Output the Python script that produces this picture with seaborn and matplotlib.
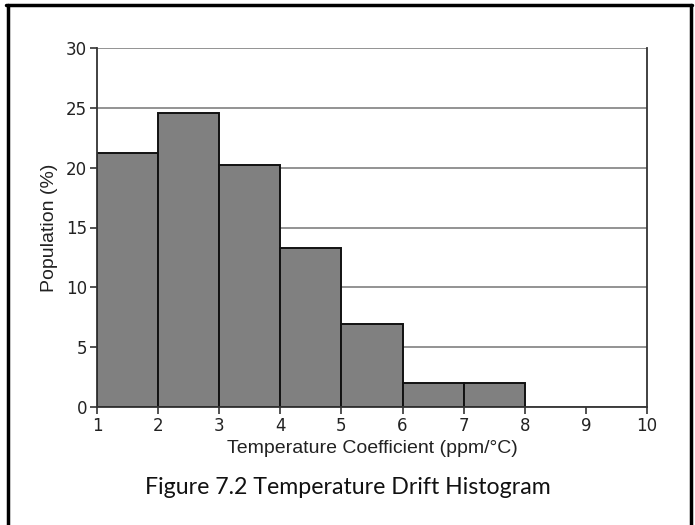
import matplotlib
matplotlib.use("Agg")
import matplotlib.pyplot as plt
import seaborn as sns
import pandas as pd

bin_edges = [1, 2, 3, 4, 5, 6, 7, 8]
population = [21.2, 24.6, 20.2, 13.3, 6.9, 2.0, 2.0]
x_ticks = [1, 2, 3, 4, 5, 6, 7, 8, 9, 10]
y_ticks = [0, 5, 10, 15, 20, 25, 30]
x_label = "Temperature Coefficient (ppm/°C)"
y_label = "Population (%)"
caption = "Figure 7.2 Temperature Drift Histogram"

sns.set_style("white")
plt.rcParams["font.family"] = ["DejaVu Sans"]

df = pd.DataFrame({
    "center": [(a + b) / 2 for a, b in zip(bin_edges[:-1], bin_edges[1:])],
    "pct": population,
})

fig = plt.figure(figsize=(6.95, 5.25), dpi=100)
ax = fig.add_axes([97 / 695, 1 - 407 / 525, 550 / 695, 359 / 525])

sns.histplot(data=df, x="center", weights="pct", bins=bin_edges, stat="count",
             color="#808080", edgecolor="#111111", linewidth=1.4, alpha=1.0, ax=ax)

ax.set_xlim(1, 10)
ax.set_ylim(0, 30)
ax.set_xticks(x_ticks)
ax.set_yticks(y_ticks)
ax.yaxis.grid(True, color="#8a8a8a", linewidth=1.3)
ax.set_axisbelow(True)
for side in ["left", "bottom", "right"]:
    ax.spines[side].set_visible(True)
    ax.spines[side].set_color("#333333")
    ax.spines[side].set_linewidth(1.3)
ax.spines["top"].set_visible(False)
ax.tick_params(axis="both", which="major", direction="out", length=5, width=1.2,
               color="#333333", labelsize=12, labelcolor="#222222", pad=2,
               bottom=True, left=True)
ax.set_xlabel(x_label, family=["Liberation Sans"], fontsize=14, color="#222222", labelpad=4)
ax.set_ylabel(y_label, family=["Liberation Sans"], fontsize=14, color="#222222", labelpad=6)

fig.text(0.5, 1 - 488 / 525, caption, ha="center", va="center",
         family=["Lato", "DejaVu Sans"], fontsize=16.7, color="#111111")

# outer frame
fig.add_artist(plt.Line2D([7.5 / 695, 7.5 / 695], [0, 1 - 5 / 525], transform=fig.transFigure, color="black", linewidth=2.5))
fig.add_artist(plt.Line2D([690.5 / 695, 690.5 / 695], [0, 1 - 5 / 525], transform=fig.transFigure, color="black", linewidth=2.5))
fig.add_artist(plt.Line2D([6.3 / 695, 691.7 / 695], [1 - 5 / 525, 1 - 5 / 525], transform=fig.transFigure, color="black", linewidth=2.5))

fig.savefig("out.png", dpi=100)
